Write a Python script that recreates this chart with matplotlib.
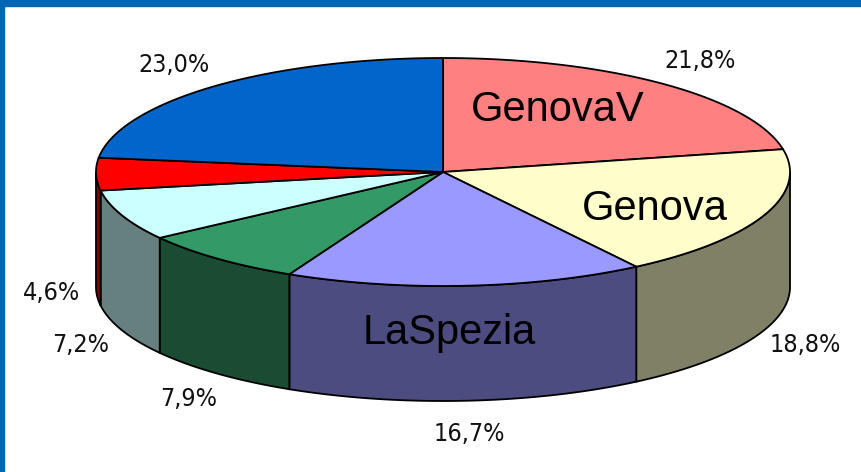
import numpy as np
import matplotlib
matplotlib.use('Agg')
import matplotlib.pyplot as plt
from matplotlib.patches import Polygon, Rectangle

# slices, clockwise from 12 o'clock
values = [21.8, 18.8, 16.7, 7.9, 7.2, 4.6, 23.0]
pct_labels = ['21,8%', '18,8%', '16,7%', '7,9%', '7,2%', '4,6%', '23,0%']
top_colors = ['#FF8080', '#FFFFCC', '#9999FF', '#339966', '#CCFFFF', '#FF0000', '#0066CC']
side_colors = ['#804040', '#808066', '#4C4C80', '#1A4C33', '#668080', '#800000', '#003366']

names = ['GenovaV', 'Genova', 'LaSpezia']
name_pos = [(558, 110), (655, 209), (449, 333)]

W, H = 861, 472
cx, cy = 443, 172          # centre of the top face
a, b = 347, 114            # ellipse radii
depth = 115                # thickness of the cake

fig = plt.figure(figsize=(W / 100, H / 100), dpi=100)
ax = fig.add_axes([0, 0, 1, 1])
ax.set_xlim(0, W)
ax.set_ylim(H, 0)
ax.axis('off')

# blue frame along top and left
ax.add_patch(Rectangle((0, 0), W, 6, color='#0066B3', zorder=5))
ax.add_patch(Rectangle((0, 0), 4, H, color='#0066B3', zorder=5))


def arc(t1, t2, dy=0, n=200):
    t = np.radians(np.linspace(t1, t2, n))
    return np.column_stack([cx + a * np.cos(t), cy - b * np.sin(t) + dy])


cum = np.concatenate([[0], np.cumsum(values)])
starts = 90 - cum[:-1] * 3.6
ends = 90 - cum[1:] * 3.6

for i in range(len(values)):
    hi, lo = starts[i], ends[i]
    # side wall: only the part facing the viewer
    s_hi, s_lo = min(hi, 0), max(lo, -180)
    if s_hi > s_lo:
        top = arc(s_hi, s_lo)
        bot = arc(s_lo, s_hi, dy=depth)
        ax.add_patch(Polygon(np.vstack([top, bot]), closed=True,
                             facecolor=side_colors[i], edgecolor='black',
                             lw=1.3, zorder=1))

for i in range(len(values)):
    pts = np.vstack([[cx, cy], arc(starts[i], ends[i])])
    ax.add_patch(Polygon(pts, closed=True, facecolor=top_colors[i],
                         edgecolor='black', lw=1.3, zorder=2))

# percentage labels around the outside
for i, lab in enumerate(pct_labels):
    t = np.radians((starts[i] + ends[i]) / 2)
    if np.sin(t) < 0:
        x = cx + (a + 45) * np.cos(t)
        y = cy - (b + 30) * np.sin(t) + depth + 3
    else:
        x = cx + (a + 60) * np.cos(t)
        y = cy - (b + 29) * np.sin(t)
    ax.text(x, y, lab, ha='center', va='center', fontsize=18,
            family=['DejaVu Sans'], stretch='condensed',
            color='#111111', zorder=4)

for name, (x, y) in zip(names, name_pos):
    ax.text(x, y, name, ha='center', va='center', fontsize=30,
            family=['Liberation Sans', 'DejaVu Sans'], color='black', zorder=4)

fig.savefig('out.png', dpi=100, facecolor='white')
